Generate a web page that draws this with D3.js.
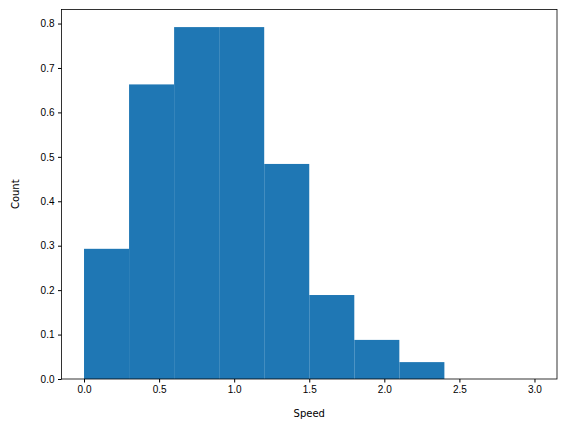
<!DOCTYPE html>
<html>
<head>
<meta charset="UTF-8">
<script src="https://d3js.org/d3.v7.min.js"></script>
<style>
  body { margin: 0; background: #fff; font-family: "DejaVu Sans", sans-serif; }
  .axis text { font-size: 10px; fill: #000; }
</style>
</head>
<body>
<script>
// histogram bins (edges) and heights
var binEdges = [0, 0.3, 0.6, 0.9, 1.2, 1.5, 1.8, 2.1, 2.4, 2.7, 3.0];
var binValues = [0.293, 0.663, 0.792, 0.792, 0.484, 0.189, 0.088, 0.038, 0, 0];
var xTicks = [0, 0.5, 1.0, 1.5, 2.0, 2.5, 3.0];
var yTicks = [0, 0.1, 0.2, 0.3, 0.4, 0.5, 0.6, 0.7, 0.8];

var W = 567, H = 432;
var margin = { left: 61.5, right: 10, top: 9.5, bottom: 53 };
var width = W - margin.left - margin.right;
var height = H - margin.top - margin.bottom;

var svg = d3.select("body").append("svg").attr("width", W).attr("height", H);
var g = svg.append("g").attr("transform", "translate(" + margin.left + "," + margin.top + ")");

var x = d3.scaleLinear().domain([-0.15, 3.15]).range([0, width]);
var y = d3.scaleLinear().domain([0, 0.8316]).range([height, 0]);

var bins = binValues.map(function (v, i) { return { x0: binEdges[i], x1: binEdges[i + 1], v: v }; });

g.selectAll(".bar").data(bins).enter().append("rect")
  .attr("x", function (d) { return x(d.x0); })
  .attr("width", function (d) { return x(d.x1) - x(d.x0); })
  .attr("y", function (d) { return y(d.v); })
  .attr("height", function (d) { return height - y(d.v); })
  .attr("fill", "#1f77b4");

var fmt = d3.format(".1f");
g.append("g").attr("class", "axis").attr("transform", "translate(0," + height + ")")
  .call(d3.axisBottom(x).tickValues(xTicks).tickFormat(fmt).tickSize(3.5).tickPadding(3.5))
  .call(function (s) { s.select(".domain").remove(); });
g.append("g").attr("class", "axis")
  .call(d3.axisLeft(y).tickValues(yTicks).tickFormat(fmt).tickSize(3.5).tickPadding(3.5))
  .call(function (s) { s.select(".domain").remove(); });

g.append("rect").attr("width", width).attr("height", height)
  .attr("fill", "none").attr("stroke", "#000").attr("stroke-width", 0.8);

svg.append("text").attr("x", margin.left + width / 2).attr("y", H - 15)
  .attr("text-anchor", "middle").style("font-size", "10px").text("Speed");
svg.append("text").attr("transform", "translate(19," + (margin.top + height / 2) + ") rotate(-90)")
  .attr("text-anchor", "middle").style("font-size", "10px").text("Count");
</script>
</body>
</html>
